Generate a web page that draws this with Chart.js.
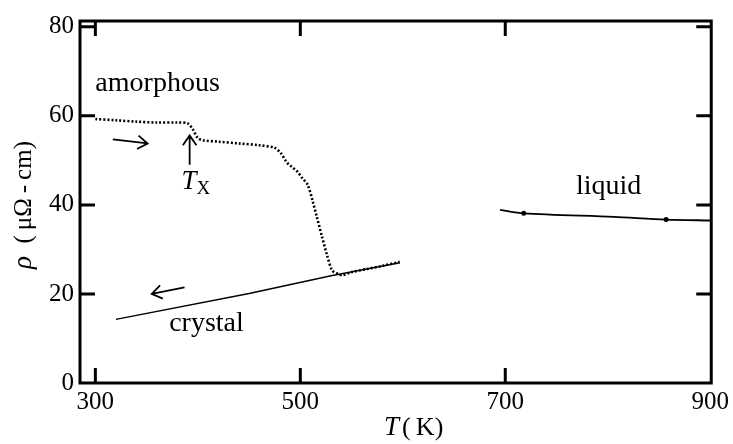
<!DOCTYPE html>
<html>
<head>
<meta charset="utf-8">
<script src="https://cdn.jsdelivr.net/npm/chart.js@4.4.1/dist/chart.umd.min.js"></script>
<style>
  html, body { margin: 0; padding: 0; background: #fff; }
  #wrap { width: 733px; height: 444px; position: relative; }
</style>
</head>
<body>
<div id="wrap"><canvas id="rhoChart"></canvas></div>
<script>
// =========================
// DATA
// =========================

// heating run, amorphous -> crystal (dotted)
const heatT = [300, 320, 340, 360, 380, 390, 395, 400, 405, 420, 440, 460, 475, 481, 487, 492, 497, 502, 507, 512, 516, 521, 526, 531, 536, 541, 550, 565, 580, 597];
const heatRho = [59.3, 59.0, 58.7, 58.5, 58.5, 58.3, 57.0, 55.0, 54.5, 54.2, 53.8, 53.4, 52.8, 51.6, 49.5, 48.5, 47.5, 46.0, 44.6, 40.9, 37.4, 33.0, 28.8, 25.3, 24.6, 24.2, 24.9, 25.6, 26.3, 27.2];

// cooling run, crystal
const coolT = [320, 450, 530, 597];
const coolRho = [14.3, 20.1, 24.1, 27.0];

// liquid
const liqT = [695, 718, 806, 857, 901];
const liqRho = [38.9, 38.1, 37.3, 36.7, 36.5];
const liqMarked = [718, 857];

const xTicks = [300, 500, 700, 900];
const yTicks = [0, 20, 40, 60, 80];

const FONT = "'Liberation Serif', 'DejaVu Serif', serif";

function pairs(xs, ys)
{
  return xs.map((x, i) => ({ x: x, y: ys[i] }));
}

// =========================
// FRAME + TEXT PLUGIN
// =========================

function arrow(c, x1, y1, x2, y2)
{
  const a = Math.atan2(y2 - y1, x2 - x1);
  const h = 12;
  c.beginPath();
  c.moveTo(x1, y1);
  c.lineTo(x2, y2);
  c.moveTo(x2 - h * Math.cos(a - 0.6), y2 - h * Math.sin(a - 0.6));
  c.lineTo(x2, y2);
  c.lineTo(x2 - h * Math.cos(a + 0.6), y2 - h * Math.sin(a + 0.6));
  c.stroke();
}

const framePlugin = {
  id: "frame",
  afterDraw(chart)
  {
    const c = chart.ctx;
    const a = chart.chartArea;
    const xs = chart.scales.x;
    const ys = chart.scales.y;
    const px = (v) => xs.getPixelForValue(v);
    const py = (v) => ys.getPixelForValue(v);

    c.save();
    c.strokeStyle = "#000";
    c.fillStyle = "#000";

    // box
    c.lineWidth = 3;
    c.strokeRect(a.left, a.top, a.right - a.left, a.bottom - a.top);

    // inward ticks
    const len = 15;
    c.beginPath();
    xTicks.forEach((v) => {
      const x = px(v);
      if(x <= a.left + 3 || x >= a.right - 3) return;
      c.moveTo(x, a.bottom); c.lineTo(x, a.bottom - len);
      c.moveTo(x, a.top); c.lineTo(x, a.top + len);
    });
    yTicks.forEach((v) => {
      const y = py(v);
      if(y <= a.top + 3 || y >= a.bottom - 3) return;
      c.moveTo(a.left, y); c.lineTo(a.left + len, y);
      c.moveTo(a.right, y); c.lineTo(a.right - len, y);
    });
    c.stroke();

    // annotations
    c.font = "28px " + FONT;
    c.textBaseline = "alphabetic";
    c.textAlign = "left";
    c.fillText("amorphous", px(300), py(65.5));
    c.fillText("crystal", px(372), py(11.6));
    c.fillText("liquid", px(769), py(42.4));

    c.lineWidth = 1.8;
    arrow(c, px(317), py(54.7), px(351), py(53.8));
    arrow(c, px(392), py(49), px(392), py(55.6));
    arrow(c, px(387), py(21.5), px(355), py(20.0));

    c.font = "italic 27px " + FONT;
    c.fillText("T", px(384), py(43.5));
    c.font = "19px " + FONT;
    c.fillText("X", px(384) + 15, py(43.5) + 5);

    // x title
    c.font = "italic 27px " + FONT;
    c.fillText("T", 384, 435);
    c.font = "26px " + FONT;
    c.fillText("(\u2009K)", 402, 435);

    // y title
    c.translate(31, 205);
    c.rotate(-Math.PI / 2);
    c.textAlign = "left";
    const s1 = "\u03C1";
    const s2 = "  (\u2009\u03BC\u03A9\u2009-\u2009cm)";
    c.font = "25px " + FONT;
    const w2 = c.measureText(s2).width;
    c.font = "italic 27px " + FONT;
    const w1 = c.measureText(s1).width;
    const x0 = -(w1 + w2) / 2;
    c.fillText(s1, x0, 0);
    c.font = "25px " + FONT;
    c.fillText(s2, x0 + w1, 0);

    c.restore();
  }
};

// =========================
// CHART
// =========================

const ctx =
document.getElementById("rhoChart");

const rhoChart =
new Chart(ctx, {
  type: "scatter",
  data: {
    datasets: [
      {
        label: "heating",
        data: pairs(heatT, heatRho),
        showLine: true,
        borderColor: "#000",
        borderWidth: 2.6,
        borderDash: [2, 2],
        pointRadius: 0,
        tension: 0.3
      },
      {
        label: "cooling",
        data: pairs(coolT, coolRho),
        showLine: true,
        borderColor: "#000",
        borderWidth: 1.4,
        pointRadius: 0,
        tension: 0
      },
      {
        label: "liquid",
        data: pairs(liqT, liqRho),
        showLine: true,
        borderColor: "#000",
        backgroundColor: "#000",
        borderWidth: 1.8,
        pointRadius: liqT.map((t) => liqMarked.includes(t) ? 2.5 : 0),
        pointBorderWidth: 0,
        tension: 0.3
      }
    ]
  },
  options: {
    responsive: true,
    maintainAspectRatio: false,
    animation: false,
    layout: { padding: { top: 13, right: 20, left: 0, bottom: 0 } },
    plugins: {
      legend: { display: false },
      tooltip: { enabled: false }
    },
    scales: {
      x: {
        type: "linear",
        min: 285,
        max: 901,
        afterBuildTicks: (s) => { s.ticks = xTicks.map((v) => ({ value: v })); },
        afterFit: (s) => { s.height = 61; },
        grid: { display: false, drawTicks: false },
        border: { display: false },
        ticks: {
          color: "#000",
          padding: 4,
          font: { family: FONT, size: 25 }
        }
      },
      y: {
        min: 0,
        max: 81.3,
        afterBuildTicks: (s) => { s.ticks = yTicks.map((v) => ({ value: v })); },
        afterFit: (s) => { s.width = 80; },
        grid: { display: false, drawTicks: false },
        border: { display: false },
        ticks: {
          color: "#000",
          padding: 6,
          font: { family: FONT, size: 25 }
        }
      }
    }
  },
  plugins: [framePlugin]
});
</script>
</body>
</html>
